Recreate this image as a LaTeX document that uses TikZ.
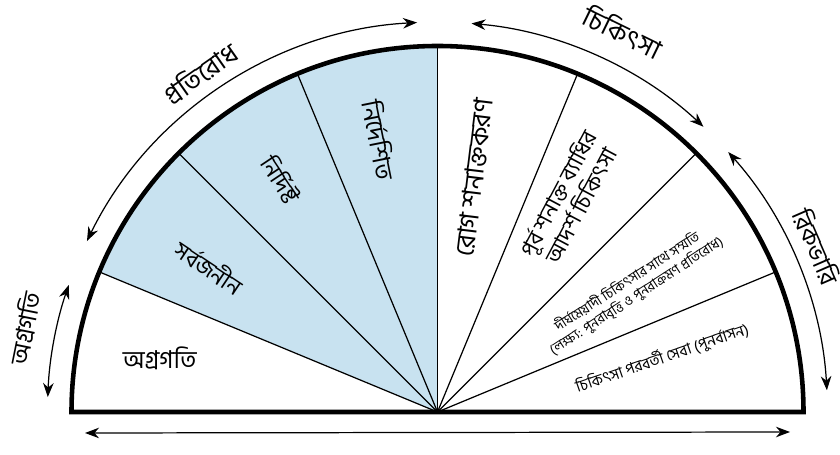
\documentclass[tikz,border=0pt]{standalone}
\usepackage{fontspec}
\setmainfont[Script=Bengali]{Hind Siliguri}
\usetikzlibrary{arrows.meta, calc}
\definecolor{prevblue}{RGB}{200,226,240}

\begin{document}
\begin{tikzpicture}[
    rim/.style={line width=2.6pt, line join=miter},
    spoke/.style={line width=0.7pt},
    span/.style={{Stealth[length=8pt,width=6pt]}-{Stealth[length=8pt,width=6pt]}, line width=0.7pt},
    seclabel/.style={font=\fontsize{13}{15}\selectfont, align=center, inner sep=1pt},
    smalllabel/.style={font=\fontsize{7.8}{9.5}\selectfont, align=center, inner sep=1pt},
    arclabel/.style={font=\fontsize{14}{16}\selectfont, inner sep=1pt}]
  \useasboundingbox (0,0) rectangle (16.8,9.1);
  \coordinate (O) at (8.75,0.86);

  % Prevention sectors (shaded)
  \fill[prevblue] (O) -- ++(90:7.32) arc (90:157.5:7.32) -- cycle;

  % Spokes, 8 equal sectors
  \foreach \a in {22.5,45,...,157.5} {
    \draw[spoke] (O) -- ++(\a:7.32);
  }

  % Half disc outline
  \draw[rim] ($(O)+(0:7.32)$) arc (0:180:7.32) -- cycle;

  % Sector labels
  \node[seclabel, font=\fontsize{14}{16}\selectfont] (promo) at ($(O)+(169:5.66)$) {অগ্রগতি};
  \node[seclabel, rotate=-33.75] (univ) at ($(O)+(147.5:5.4)$) {সর্বজনীন};
  \node[seclabel, rotate=-56.25] (select) at ($(O)+(124:5.6)$) {নির্দিষ্ট};
  \node[seclabel, rotate=-78.75, font=\fontsize{14}{16}\selectfont] (indic) at ($(O)+(102:5.56)$) {নির্দেশিত};
  \node[seclabel, rotate=83, font=\fontsize{15}{17}\selectfont] (caseid) at ($(O)+(81:4.75)$) {রোগ শনাক্তকরণ};
  \node[seclabel, rotate=62, font=\fontsize{12.5}{14.5}\selectfont] (stdtreat) at ($(O)+(58.4:5.0)$) {পূর্ব শনাক্ত ব্যাধির\\আদর্শ চিকিৎসা};
  \node[smalllabel, rotate=33] (comply) at ($(O)+(32.4:4.6)$) {দীর্ঘমেয়াদী চিকিৎসার সাথে সম্মতি\\(লক্ষ্য: পুনরাবৃত্তি ও পুনরাক্রমণ প্রতিরোধ)};
  \node[smalllabel, rotate=19, font=\fontsize{8.8}{10}\selectfont] (aftercare) at ($(O)+(13.5:4.62)$) {চিকিৎসা পরবর্তী সেবা (পুনর্বাসন)};

  % Outer spans
  \draw[span] ($(O)+(161:7.8)$) arc (161:177.8:7.8);
  \draw[span] ($(O)+(154:7.8)$) arc (154:93:7.8);
  \draw[span] ($(O)+(85:7.8)$) arc (85:47:7.8);
  \draw[span] ($(O)+(41.8:7.8)$) arc (41.8:3.2:7.8);

  \node[arclabel, rotate=78.5] (promospan) at ($(O)+(168.5:8.42)$) {অগ্রগতি};
  \node[arclabel, rotate=35, font=\fontsize{15}{17}\selectfont] (prevspan) at ($(O)+(125:8.28)$) {প্রতিরোধ};
  \node[arclabel, rotate=-26, font=\fontsize{15}{17}\selectfont] (treatspan) at ($(O)+(64:8.46)$) {চিকিৎসা};
  \node[arclabel, rotate=-66.4] (maintspan) at ($(O)+(23.6:8.28)$) {রিকভারি};

  % Base arrow
  \coordinate (baseL) at (1.7,0.44);
  \coordinate (baseR) at (15.8,0.46);
  \draw[span] (baseL) -- (baseR);
\end{tikzpicture}
\end{document}
